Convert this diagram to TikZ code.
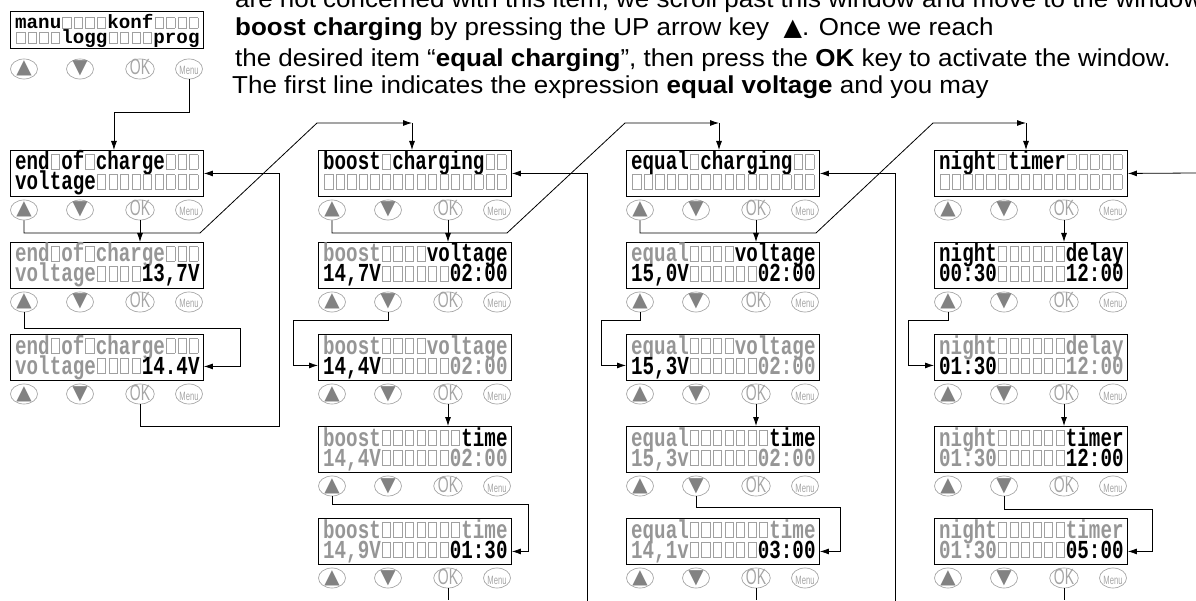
\documentclass[tikz,border=0pt]{standalone}
\usepackage{fontspec}
\usepackage{xcolor}
\usepackage{graphicx}
\usetikzlibrary{shapes.geometric,arrows.meta}
\setmainfont{Liberation Sans}[FakeStretch=1.06]
\newfontfamily\lcdfam{Liberation Mono}
\newfontfamily\symfam{DejaVu Sans}
\definecolor{lcdgray}{RGB}{150,150,150}
\definecolor{cellgray}{RGB}{160,160,160}
\definecolor{keygray}{RGB}{165,165,165}
\definecolor{keyfill}{RGB}{130,130,130}
\newcommand{\FT}{\fontsize{24.5}{29}\selectfont}
\newcommand{\FD}{\lcdfam\bfseries\fontsize{19.2}{20}\selectfont}
\newcommand{\gry}[1]{\textcolor{lcdgray}{#1}}
\newcommand{\cel}{\hbox to .6em{\hss\textcolor{cellgray}{\vbox{\hrule height .6pt\hbox{\vrule width .8pt height 10.6pt\kern 7.6pt\vrule width .8pt}\hrule height .6pt}}\hss}}
\newcommand{\cels}[1]{\foreach \k in {1,...,#1}{\cel}}
\newcommand{\keyup}{\textcolor{keyfill}{\symfam\fontsize{20}{20}\selectfont\raisebox{1pt}{▲}}}
\newcommand{\keydn}{\textcolor{keyfill}{\symfam\fontsize{20}{20}\selectfont\raisebox{1pt}{▼}}}
\newcommand{\keyok}{\textcolor{keygray}{\fontsize{22}{22}\selectfont\scalebox{.6}[1]{OK}}}
\newcommand{\keymenu}{\textcolor{keygray}{\fontsize{12}{12}\selectfont\scalebox{.6}[1]{Menu}}}
\newcommand{\keys}[3]{%
  \node[key] (#1u) at ({#2+14},{#3}) {\keyup};
  \node[key] (#1d) at ({#2+70},{#3}) {\keydn};
  \node[key] (#1o) at ({#2+130},{#3}) {\keyok};
  \node[key] (#1m) at ({#2+179},{#3}) {\keymenu};
}
\newcommand{\lcd}[5]{%
  \node[lcd] (#1) at (#2,#3) {};
  \node[lcdtxt] (#1t) at ({#2+5},{#3+20}) {\scalebox{1}[1.35]{#4}};
  \node[lcdtxt] (#1b) at ({#2+5},{#3+40}) {\scalebox{1}[1.35]{#5}};
  \keys{#1}{#2}{#3+60}
}

\begin{document}
\begin{tikzpicture}[x=1pt,y=-1pt]
\tikzstyle{texto}=[anchor=base west,inner sep=0,font=\FT]
\tikzstyle{lcd}=[draw,anchor=north west,line width=.9pt,minimum width=193pt,minimum height=46pt,inner sep=0]
\tikzstyle{lcdtxt}=[anchor=base west,inner sep=0,text height=15pt,text depth=1pt,font=\FD]
\tikzstyle{key}=[ellipse,draw=keygray,line width=.7pt,minimum width=27pt,minimum height=20pt,inner sep=0,text height=12pt,text depth=0pt]
\tikzstyle{arr}=[line width=.8pt,-{Latex[length=9pt,width=6pt]}]
\tikzstyle{wire}=[line width=.8pt]

\useasboundingbox (0,0) rectangle (1196,601);

\node[texto] (l1) at (235,8) {are not concerned with this item, we scroll past this window and move to the window};
\node[texto] (l2) at (235,36) {\textbf{boost charging} by pressing the UP arrow key\ \ {\symfam\fontsize{24}{24}\selectfont ▲}. Once we reach};
\node[texto] (l3) at (235,67) {the desired item “\textbf{equal charging}”, then press the \textbf{OK} key to activate the window.};
\node[texto] (l4) at (232,94) {The first line indicates the expression \textbf{equal voltage} and you may};

\node[lcd,minimum height=37pt] (p0) at (10,11) {};
\node[lcdtxt,text height=11pt] (p0t) at (15,29) {manu\cels{4}konf\cels{4}};
\node[lcdtxt,text height=11pt] (p0b) at (15,44) {\cels{4}logg\cels{4}prog};
\keys{p0}{10}{69}

\lcd{a1}{10}{150}{end\cel of\cel charge\cels{3}}{voltage\cels{9}}
\lcd{b1}{10}{242}{\gry{end\cel of\cel charge\cels{3}}}{\gry{voltage\cels{4}}13,7V}
\lcd{c1}{10}{334}{\gry{end\cel of\cel charge\cels{3}}}{\gry{voltage\cels{4}}14.4V}

\lcd{a2}{318}{150}{boost\cel charging\cels{2}}{\cels{16}}
\lcd{b2}{318}{242}{\gry{boost\cels{4}}voltage}{14,7V\cels{6}02:00}
\lcd{c2}{318}{334}{\gry{boost\cels{4}voltage}}{14,4V\gry{\cels{6}02:00}}
\lcd{d2}{318}{426}{\gry{boost\cels{7}}time}{\gry{14,4V\cels{6}02:00}}
\lcd{e2}{318}{518}{\gry{boost\cels{7}time}}{\gry{14,9V\cels{6}}01:30}

\lcd{a3}{626}{150}{equal\cel charging\cels{2}}{\cels{16}}
\lcd{b3}{626}{242}{\gry{equal\cels{4}}voltage}{15,0V\cels{6}02:00}
\lcd{c3}{626}{334}{\gry{equal\cels{4}voltage}}{15,3V\gry{\cels{6}02:00}}
\lcd{d3}{626}{426}{\gry{equal\cels{7}}time}{\gry{15,3v\cels{6}02:00}}
\lcd{e3}{626}{518}{\gry{equal\cels{7}time}}{\gry{14,1v\cels{6}}03:00}

\lcd{a4}{934}{150}{night\cel timer\cels{5}}{\cels{16}}
\lcd{b4}{934}{242}{night\cels{6}delay}{00:30\cels{6}12:00}
\lcd{c4}{934}{334}{\gry{night\cels{6}delay}}{01:30\gry{\cels{6}12:00}}
\lcd{d4}{934}{426}{\gry{night\cels{6}}timer}{\gry{01:30\cels{6}}12:00}
\lcd{e4}{934}{518}{\gry{night\cels{6}timer}}{\gry{01:30\cels{6}}05:00}

\coordinate (a2in) at (412,123);
\coordinate (a3in) at (719,123);
\coordinate (a4in) at (1026,123);
\coordinate (fb2) at (587,601);
\coordinate (fb3) at (895,601);
\coordinate (fb4) at (1196,173);

\draw[arr] (p0m.south) -- ++(0,33) -| ([xshift=7pt]a1.north);
\draw[arr] (a1u.south) |- (200,233) -- (317,123) -- (a2in);
\draw[arr] (a2in) -- (a2in |- a2.north);
\draw[arr] (a1o.south) -- (a1o.south |- b1.north);
\draw[arr] (b1u.south) |- (240,328) |- ([yshift=-9pt]c1.east);
\draw[arr] (c1o.south) |- (279,426) |- (a1.east);

\draw[arr] (a2u.south) |- (507,233) -- (625,123) -- (a3in);
\draw[arr] (a3in) -- (a3in |- a3.north);
\draw[arr] (a2o.south) -- (a2o.south |- b2.north);
\draw[arr] (b2d.south) |- (293,320) |- ([yshift=-8pt]c2.west);
\draw[arr] (c2o.south) -- (c2o.south |- d2.north);
\draw[arr] (d2u.south) |- (528,504) |- ([yshift=-10pt]e2.east);
\draw[wire] (e2o.south) -- ++(0,12);
\draw[arr] (fb2) |- (a2.east);

\draw[arr] (a3u.south) |- (816,233) -- (933,123) -- (a4in);
\draw[arr] (a4in) -- (a4in |- a4.north);
\draw[arr] (a3o.south) -- (a3o.south |- b3.north);
\draw[arr] (b3u.south) |- (601,320) |- ([yshift=-8pt]c3.west);
\draw[arr] (c3o.south) -- (c3o.south |- d3.north);
\draw[arr] (d3d.south) |- (840,507) |- ([yshift=-10pt]e3.east);
\draw[wire] (e3o.south) -- ++(0,12);
\draw[arr] (fb3) |- (a3.east);

\draw[arr] (a4o.south) -- (a4o.south |- b4.north);
\draw[arr] (b4u.south) |- (908,320) |- ([yshift=-8pt]c4.west);
\draw[arr] (c4o.south) -- (c4o.south |- d4.north);
\draw[arr] (d4d.south) |- (1152,509) |- ([yshift=-10pt]e4.east);
\draw[wire] (e4o.south) -- ++(0,12);
\draw[arr] (fb4) -- (a4.east);
\end{tikzpicture}
\end{document}
